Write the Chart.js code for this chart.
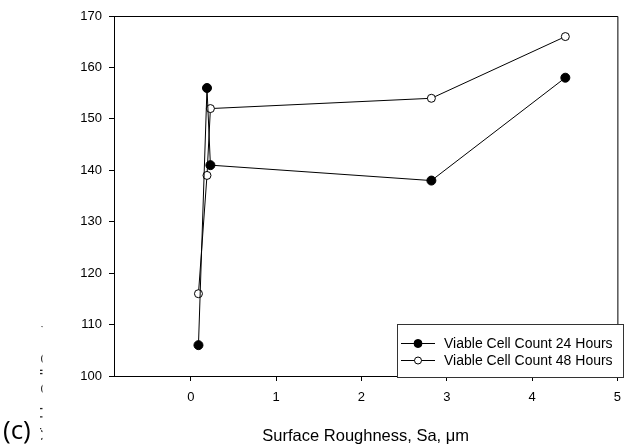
<!DOCTYPE html>
<html>
<head>
<meta charset="utf-8">
<script src="https://cdn.jsdelivr.net/npm/chart.js@4"></script>
<style>
  html, body { margin: 0; padding: 0; background: #fff; }
  #wrap { width: 630px; height: 447px; }
</style>
</head>
<body>
<div id="wrap"><canvas id="chart" width="630" height="447"></canvas></div>
<script>
// data
const roughness24 = [0.09, 0.19, 0.23, 2.82, 4.39];
const count24 = [106, 156, 141, 138, 158];
const roughness48 = [0.09, 0.19, 0.23, 2.82, 4.39];
const count48 = [116, 139, 152, 154, 166];
const xTicks = [0, 1, 2, 3, 4, 5];
const yTicks = [100, 110, 120, 130, 140, 150, 160, 170];
const seriesNames = ["Viable Cell Count 24 Hours", "Viable Cell Count 48 Hours"];

const font = "'Liberation Sans', Arial, sans-serif";

function toPoints(xs, ys) {
    return xs.map((x, i) => ({ x: x, y: ys[i] }));
}

// frame on top/right, legend box, clipped y title and the (c) label
const extras = {
    id: "extras",
    afterDraw(chart) {
        const ctx = chart.ctx;
        const a = chart.chartArea;
        ctx.save();
        ctx.strokeStyle = "#000";
        ctx.lineWidth = 1;
        ctx.beginPath();
        ctx.moveTo(a.left, a.top + 0.5);
        ctx.lineTo(a.right + 0.5, a.top + 0.5);
        ctx.lineTo(a.right + 0.5, a.bottom);
        ctx.stroke();

        // legend
        const bx = 397, by = 324, bw = 226, bh = 53;
        ctx.fillStyle = "#fff";
        ctx.fillRect(bx, by, bw, bh);
        ctx.strokeStyle = "#333";
        ctx.strokeRect(bx + 0.5, by + 0.5, bw, bh);
        ctx.font = "14px " + font;
        ctx.textBaseline = "middle";
        chart.data.datasets.forEach((ds, i) => {
            const y = by + 19 + i * 17;
            ctx.strokeStyle = "#000";
            ctx.beginPath();
            ctx.moveTo(bx + 4, y + 0.5);
            ctx.lineTo(bx + 38, y + 0.5);
            ctx.stroke();
            ctx.beginPath();
            ctx.arc(bx + 21, y + 0.5, i === 0 ? 4 : 3.5, 0, Math.PI * 2);
            ctx.fillStyle = ds.pointBackgroundColor;
            ctx.fill();
            ctx.stroke();
            ctx.fillStyle = "#000";
            ctx.fillText(ds.label, bx + 47, y + 1);
        });

        // y title, clipped in the original so only a sliver shows
        ctx.save();
        ctx.beginPath();
        ctx.rect(40, 310, 2.5, 137);
        ctx.clip();
        ctx.translate(47, 440);
        ctx.rotate(-Math.PI / 2);
        ctx.fillStyle = "#222";
        ctx.font = "15px " + font;
        ctx.textBaseline = "middle";
        ctx.fillText("Viable Cell Count", 0, 0);
        ctx.restore();

        ctx.fillStyle = "#000";
        ctx.font = "26px 'Open Sans', sans-serif";
        ctx.textBaseline = "alphabetic";
        ctx.fillText("(c)", 3, 439);
        ctx.restore();
    }
};

new Chart(document.getElementById("chart"), {
    type: "scatter",
    data: {
        datasets: [
            {
                label: seriesNames[0],
                data: toPoints(roughness24, count24),
                showLine: true,
                borderColor: "#000",
                borderWidth: 1,
                pointRadius: 4.5,
                pointBackgroundColor: "#000",
                pointBorderColor: "#000",
                pointBorderWidth: 1
            },
            {
                label: seriesNames[1],
                data: toPoints(roughness48, count48),
                showLine: true,
                borderColor: "#000",
                borderWidth: 1,
                pointRadius: 4,
                pointBackgroundColor: "#fff",
                pointBorderColor: "#000",
                pointBorderWidth: 1
            }
        ]
    },
    options: {
        responsive: false,
        animation: false,
        layout: { padding: { left: 0, top: 16, right: 4, bottom: 0 } },
        plugins: {
            legend: { display: false },
            tooltip: { enabled: false }
        },
        scales: {
            x: {
                type: "linear",
                min: -0.9,
                max: 5,
                afterFit(scale) { scale.height = 71; },
                afterBuildTicks(scale) { scale.ticks = xTicks.map(v => ({ value: v })); },
                border: { color: "#000", width: 1 },
                grid: { drawOnChartArea: false, tickLength: 5, tickColor: "#000" },
                ticks: { color: "#000", padding: 9, font: { family: font, size: 13 } },
                title: {
                    display: true,
                    text: "Surface Roughness, Sa, \u03bcm",
                    color: "#000",
                    font: { family: font, size: 16.5 },
                    padding: { top: 0, bottom: 1 }
                }
            },
            y: {
                min: 100,
                max: 170,
                afterFit(scale) { scale.width = 114; },
                afterBuildTicks(scale) { scale.ticks = yTicks.map(v => ({ value: v })); },
                border: { color: "#000", width: 1 },
                grid: { drawOnChartArea: false, tickLength: 5, tickColor: "#000" },
                ticks: { color: "#000", padding: 7, font: { family: font, size: 13 } }
            }
        }
    },
    plugins: [extras]
});
</script>
</body>
</html>
